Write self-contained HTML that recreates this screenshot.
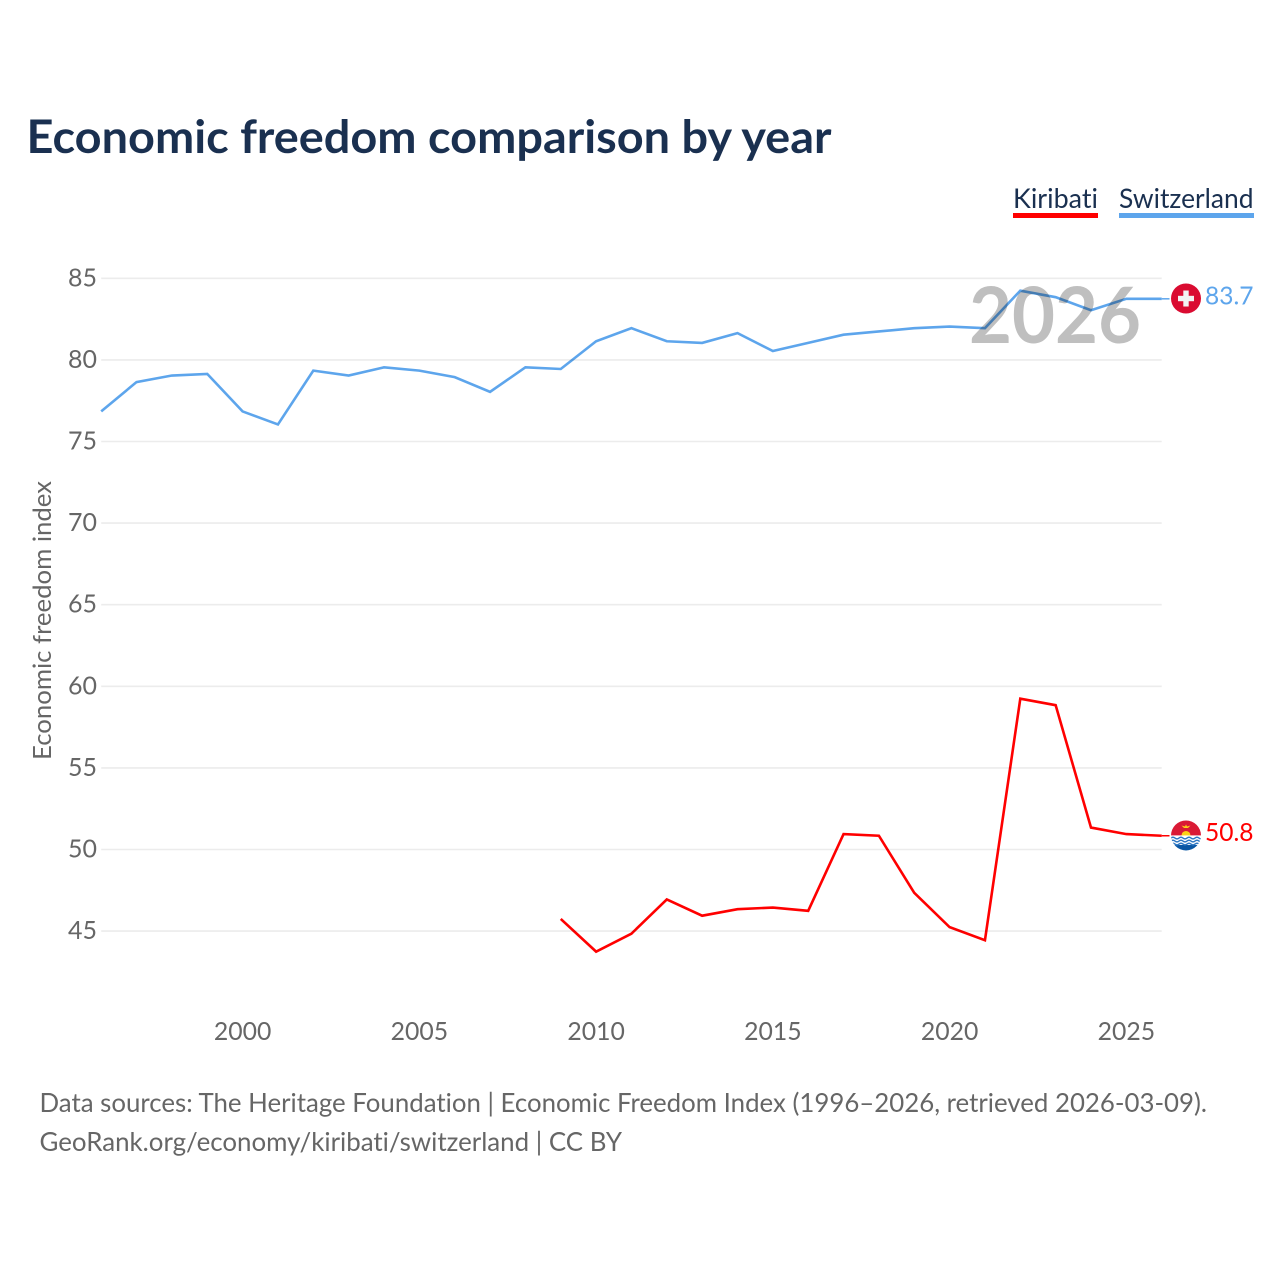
<!DOCTYPE html>
<html lang="en">
<head>
<meta charset="utf-8">
<title>Economic freedom comparison by year</title>
<style>
html,body{margin:0;padding:0;background:#fff;}
svg{display:block;}
text{font-family:"Lato","Liberation Sans",sans-serif;font-variant-ligatures:none;}
</style>
</head>
<body>
<svg id="chart" xmlns="http://www.w3.org/2000/svg" width="1280" height="1280" viewBox="0 0 1280 1280">
  <defs>
    <clipPath id="flag-clip-ki"><circle cx="0" cy="0" r="15"/></clipPath>
  </defs>
  <rect x="0" y="0" width="1280" height="1280" fill="#ffffff"/>
  <text x="26.5" y="153" font-size="46" font-weight="700" fill="#1a3050" textLength="805" lengthAdjust="spacingAndGlyphs">Economic freedom comparison by year</text>

  <text x="1013" y="208" font-size="27" fill="#1a3050" textLength="85" lengthAdjust="spacingAndGlyphs">Kiribati</text>
  <rect x="1013" y="213" width="85" height="5" fill="#ff0000"/>
  <text x="1119" y="208" font-size="27" fill="#1a3050" textLength="134.5" lengthAdjust="spacingAndGlyphs">Switzerland</text>
  <rect x="1119" y="213" width="135" height="5" fill="#5da5ec"/>

  <g id="grid"></g>
  <g id="y-ticks"></g>
  <g id="x-ticks"></g>

  <text x="969" y="343" font-size="78" font-weight="700" fill="#bfbfbf" textLength="172" lengthAdjust="spacingAndGlyphs">2026</text>

  <g id="series" style="mix-blend-mode:multiply"></g>
  <g id="ends"></g>

  <text transform="translate(51,760) rotate(-90)" x="0" y="0" font-size="25" fill="#666666" textLength="279" lengthAdjust="spacingAndGlyphs">Economic freedom index</text>

  <text x="39.5" y="1112" font-size="26" fill="#666666" textLength="1167.5" lengthAdjust="spacingAndGlyphs">Data sources: The Heritage Foundation | Economic Freedom Index (1996–2026, retrieved 2026-03-09).</text>
  <text x="39.5" y="1151" font-size="26" fill="#666666" textLength="582.5" lengthAdjust="spacingAndGlyphs">GeoRank.org/economy/kiribati/switzerland | CC BY</text>
</svg>
<script>
const years = [1996,1997,1998,1999,2000,2001,2002,2003,2004,2005,2006,2007,2008,2009,2010,2011,2012,2013,2014,2015,2016,2017,2018,2019,2020,2021,2022,2023,2024,2025,2026];
const switzerlandValues = [76.8,78.6,79.0,79.1,76.8,76.0,79.3,79.0,79.5,79.3,78.9,78.0,79.5,79.4,81.1,81.9,81.1,81.0,81.6,80.5,81.0,81.5,81.7,81.9,82.0,81.9,84.2,83.8,83.0,83.7,83.7];
const kiribatiValues = [null,null,null,null,null,null,null,null,null,null,null,null,null,45.7,43.7,44.8,46.9,45.9,46.3,46.4,46.2,50.9,50.8,47.3,45.2,44.4,59.2,58.8,51.3,50.9,50.8];
const yTickValues = [45,50,55,60,65,70,75,80,85];
const xTickValues = [2000,2005,2010,2015,2020,2025];

const NS = 'http://www.w3.org/2000/svg';
function xScale(year){ return 242.6 + (year - 2000) * 35.35; }
function yScale(value){ return 278.3 + (85 - value) * 16.32; }
function make(tag, attrs, parent){
  const el = document.createElementNS(NS, tag);
  for (const k in attrs) el.setAttribute(k, attrs[k]);
  parent.appendChild(el);
  return el;
}

const gridG = document.getElementById('grid');
const yG = document.getElementById('y-ticks');
const xG = document.getElementById('x-ticks');
const seriesG = document.getElementById('series');
const endsG = document.getElementById('ends');

yTickValues.forEach(function(v){
  const line = make('line', {x1:xScale(1996), x2:xScale(2026), y1:yScale(v), y2:yScale(v), stroke:'#ececec', 'stroke-width':1.6}, gridG);
  
  
  const t = make('text', {x:97, y:yScale(v) + 8, 'font-size':25, fill:'#666666', 'text-anchor':'end', textLength:29, lengthAdjust:'spacingAndGlyphs'}, yG);
  t.textContent = String(v);
  
  
});

xTickValues.forEach(function(y){
  const t = make('text', {x:xScale(y), y:1040, 'font-size':25, fill:'#666666', 'text-anchor':'middle', textLength:57.5, lengthAdjust:'spacingAndGlyphs'}, xG);
  t.textContent = String(y);
  
  
});

function linePath(values){
  let d = '';
  values.forEach(function(v, i){
    if (v === null) return;
    d += (d ? 'L' : 'M') + xScale(years[i]).toFixed(2) + ' ' + (yScale(v) - 0.7).toFixed(2);
  });
  return d;
}

const kiriLine = make('path', {d:linePath(kiribatiValues), fill:'none', stroke:'#ff0000', 'stroke-width':2.6, 'stroke-linejoin':'miter'}, seriesG);


const swissLine = make('path', {d:linePath(switzerlandValues), fill:'none', stroke:'#5da5ec', 'stroke-width':2.6, 'stroke-linejoin':'miter'}, seriesG);



function endMarker(values, color, drawFlag, slug){
  const last = values[values.length - 1];
  const yy = yScale(last) - 0.7;
  const connector = make('line', {x1:xScale(2026), x2:1169.5, y1:yy, y2:yy, stroke:color, 'stroke-width':1.5}, endsG);
  
  
  const g = make('g', {transform:'translate(1186,' + (yy - 0.3) + ')'}, endsG);
  
  
  drawFlag(g);
  const label = make('text', {x:1253.5, y:yy + 5.5, 'font-size':25, fill:color, 'text-anchor':'end', textLength:48.5, lengthAdjust:'spacingAndGlyphs'}, endsG);
  label.textContent = last.toFixed(1);
  
  
}

function swissFlag(g){
  make('circle', {cx:0, cy:0, r:15, fill:'#da0b31'}, g);
  make('rect', {x:-8, y:-2.7, width:16, height:5.4, fill:'#f2f2f2'}, g);
  make('rect', {x:-2.7, y:-8, width:5.4, height:16, fill:'#f2f2f2'}, g);
}

function kiribatiFlag(g){
  const c = make('g', {'clip-path':'url(#flag-clip-ki)'}, g);
  make('rect', {x:-15, y:-15, width:30, height:15, fill:'#da1a35'}, c);
  make('circle', {cx:0, cy:0, r:4.5, fill:'#fcd116'}, c);
  make('path', {d:'M-4.5 -10 L-1 -9 L0 -11 L1 -9 L4.5 -10 L2 -7.5 L-2 -7.5 Z', fill:'#fcd116'}, c);
  make('rect', {x:-15, y:0, width:30, height:15, fill:'#ffffff'}, c);
  make('rect', {x:-15, y:9.5, width:30, height:6, fill:'#0b57a4'}, c);
  [2.6, 5.6, 8.6].forEach(function(off){
    make('path', {d:'M-15 '+off+' q2 -1.6 4 0 t4 0 t4 0 t4 0 t4 0 t4 0 t4 0 t4 0', fill:'none', stroke:'#2f78c4', 'stroke-width':1.4}, c);
  });
}

endMarker(switzerlandValues, '#5da5ec', swissFlag, 'switzerland');
endMarker(kiribatiValues, '#ff0000', kiribatiFlag, 'kiribati');
</script>
</body>
</html>
